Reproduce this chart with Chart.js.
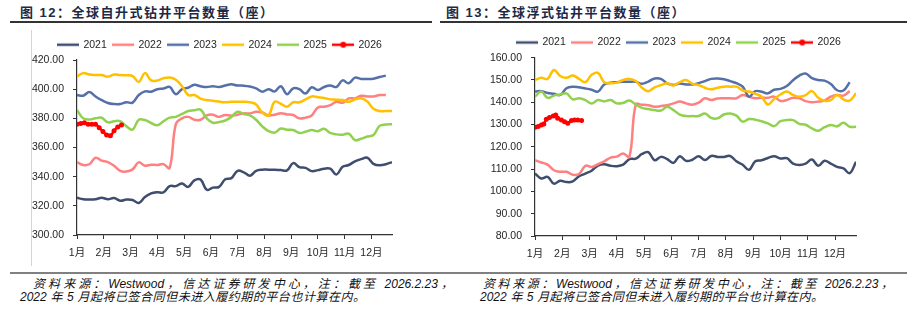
<!DOCTYPE html>
<html>
<head>
<meta charset="utf-8">
<script src="https://cdn.jsdelivr.net/npm/chart.js@4.4.1/dist/chart.umd.min.js"></script>
<style>
  body { margin: 0; width: 916px; height: 322px; background: #fff; position: relative; overflow: hidden;
         font-family: "Liberation Sans", "Noto Sans CJK SC", sans-serif; }
  .title { position: absolute; top: 5px; line-height: 16px; font-weight: bold; font-size: 13px;
           letter-spacing: 1.5px; color: #1b2a47; white-space: nowrap; }
  .rule { position: absolute; top: 21px; height: 2px; background: #333; }
  .foot-rule { position: absolute; top: 272px; height: 2px; background: #808080; }
  .src { position: absolute; font-style: italic; font-size: 12px; line-height: 14px; color: #111;
         text-align: justify; text-align-last: justify; }
  .vline { position: absolute; left: 31px; top: 30px; width: 1px; height: 236px; background: #d4d4d4; }
  canvas { position: absolute; }
</style>
</head>
<body>
<div class="title" style="left:20px">图 12：全球自升式钻井平台数量（座）</div>
<div class="title" style="left:446px">图 13：全球浮式钻井平台数量（座）</div>
<div class="rule" style="left:10px;width:422px"></div>
<div class="rule" style="left:440px;width:467px"></div>
<div class="vline"></div>

<canvas id="chartJackup" width="384" height="240" style="left:30px;top:30px"></canvas>
<canvas id="chartFloater" width="386" height="240" style="left:488px;top:30px"></canvas>

<div class="foot-rule" style="left:10px;width:440px"></div>
<div class="foot-rule" style="left:450px;width:457px"></div>
<div class="src" style="left:33px;top:277px;width:420px">资料来源：Westwood，信达证券研发中心，注：截至 2026.2.23，</div>
<div class="src" style="left:20px;top:290px;width:345px">2022 年 5 月起将已签合同但未进入履约期的平台也计算在内。</div>
<div class="src" style="left:483px;top:277px;width:410px">资料来源：Westwood，信达证券研发中心，注：截至 2026.2.23，</div>
<div class="src" style="left:480px;top:290px;width:343px">2022 年 5 月起将已签合同但未进入履约期的平台也计算在内。</div>

<script>
// 年份与颜色
const years = ['2021', '2022', '2023', '2024', '2025', '2026'];
const colors = ['#3F4D6E', '#FF8080', '#5570A8', '#FFC000', '#92D050', '#FF0000'];
const monthLabels = ['1月', '2月', '3月', '4月', '5月', '6月', '7月', '8月', '9月', '10月', '11月', '12月'];

// 自升式钻井平台（周度）
const jackup2021 = [325.5, 324.5, 324.3, 324.5, 325.5, 324.5, 325.3, 323.5, 324.3, 324, 322, 326, 328.5, 329.3, 329.3, 333.5, 333.5, 335.3, 333, 337.5, 338, 331, 332.5, 333, 338.2, 339, 344, 343, 340.7, 344, 344.8, 344.8, 344.8, 344.5, 344.3, 349.3, 346.5, 346, 343.8, 344.5, 345.5, 345.5, 341.5, 346.8, 348, 350.5, 352, 353, 348.8, 347.8, 348.5, 350];
const jackup2022 = [350, 348, 348.5, 353, 351, 350, 347.5, 344, 343.5, 345, 349.8, 347.5, 348.2, 348, 348.6, 346, 376, 380, 381, 379, 379, 382, 382.5, 381, 382.3, 381.8, 382.5, 383.4, 383.4, 384.5, 384, 382, 382.5, 383.5, 382.7, 382.3, 380, 380.5, 382, 387.5, 388, 389, 391.4, 390.7, 393.7, 393.7, 395.5, 395, 395, 396, 396];
const jackup2023 = [396, 395.5, 398, 395, 392.5, 390.5, 389.8, 389.8, 391, 390.8, 396, 398.5, 398.3, 400, 400.5, 401.5, 396.5, 400, 401, 403, 402, 401.5, 402, 401.5, 402.5, 403.3, 402.5, 402.4, 401.8, 400.5, 398.3, 400, 398.5, 402, 396.5, 400.6, 400, 397, 401.3, 399.4, 401.5, 402.5, 401.5, 406, 404, 407.9, 407, 407, 407.2, 408.3, 409.3];
const jackup2024 = [408.6, 411, 410, 409.7, 409.7, 408.6, 410, 409.7, 409.5, 409, 405, 411, 406, 406, 407.5, 408, 406.5, 402, 396, 396, 393.5, 392.5, 392, 391.5, 391, 391.4, 391.4, 391.4, 391, 389.5, 384, 382, 391.4, 390, 388, 391, 391, 393, 395, 394.5, 394, 393, 392.8, 392.5, 391.3, 393, 393.7, 391.5, 386.5, 385, 385, 385];
const jackup2025 = [385.7, 380, 379.2, 380, 380.4, 377.2, 378, 378, 374.5, 372.3, 379, 378.8, 376.8, 375.2, 378, 380.5, 381, 383, 385, 385.5, 386, 380, 377, 377.5, 378.5, 381, 384.5, 383, 382, 379, 374.5, 371.3, 370.2, 373, 372.2, 372, 370, 370.8, 372, 371.2, 372.8, 370, 369, 368.8, 369.5, 365.1, 366, 367.5, 368.6, 374.8, 375.7, 376];
const jackup2026Weeks = [0, 0.6, 1.2, 1.8, 2.4, 3, 3.6, 4.2, 4.8, 5.4, 6, 6.6, 7.2];
const jackup2026 = [376, 376.5, 377, 376, 376, 376, 373.5, 371, 368.5, 368, 371.5, 374, 375.5];

// 浮式钻井平台（周度）
const floater2021 = [108, 105.8, 106.5, 103.5, 104.8, 104.2, 104.5, 106.8, 108, 109.3, 111.6, 112.2, 111.5, 111.3, 112, 114.5, 114.7, 116.8, 117.6, 114, 115.5, 114.5, 112.8, 115.8, 113.7, 114.2, 115.8, 114.1, 115.9, 115.5, 115.5, 115.9, 113.5, 112, 109.7, 113.5, 114, 115, 115.8, 114.8, 114.9, 112.5, 111.9, 112.5, 114.3, 111.5, 113.8, 112.5, 111, 110.3, 108.2, 113.3];
const floater2022 = [114, 113, 112, 109.5, 108.8, 108.8, 107.5, 107.8, 111.5, 111, 112.2, 113.5, 115.2, 115.6, 117, 115.5, 139, 138.9, 138.7, 138, 138.3, 138.7, 139.5, 140.3, 139.5, 138.9, 139.8, 141.8, 141, 141.7, 141.8, 141.8, 141.8, 143.3, 142.5, 141.8, 142, 142, 142.5, 140.6, 141, 142, 141.8, 140.5, 140, 140.3, 140.8, 142.5, 143.3, 143, 145];
const floater2023 = [144.8, 145, 144.2, 143.8, 143.3, 146.3, 147, 146.7, 146.2, 145.6, 144.8, 148, 148.8, 149, 149.2, 149.2, 149.2, 148.3, 149.3, 150.7, 150.5, 148.5, 147.8, 148.4, 148, 148, 148.6, 149.5, 150.5, 150.7, 150.3, 149.5, 148.6, 147, 142.5, 145, 144.7, 144, 145.6, 146, 147.3, 149.9, 152, 152.9, 150.8, 150, 149.7, 148.2, 145.4, 145.3, 149];
const floater2024 = [150, 151, 150.5, 154.5, 151.8, 151, 152, 150.5, 149, 152.3, 153.2, 149, 148.5, 148.8, 150, 150.5, 149.5, 146.5, 145, 146.7, 147.7, 148.5, 147.5, 149, 150, 148.3, 147.7, 146.5, 145.8, 146.5, 147, 147, 147, 145.3, 144.8, 143.8, 142.5, 139, 141.5, 143.5, 144.8, 143.3, 142.5, 143.2, 145, 142, 140.7, 141, 143.3, 141.3, 140.7, 144];
const floater2025 = [142.5, 144.8, 142, 143, 143.5, 144, 141.3, 141.8, 141, 139.4, 141, 140.4, 141, 139.5, 139.7, 140.8, 139, 137.5, 137, 136.5, 136.3, 138, 136.5, 134.5, 133.8, 133.8, 133.8, 135, 133, 132.8, 134.5, 135, 134, 131.3, 132.5, 132.2, 131.5, 130.5, 129.3, 131.5, 132, 132, 130.3, 129.9, 128.3, 127.2, 128.8, 129.8, 129.2, 130.8, 129, 129];
const floater2026Weeks = [0, 0.5, 1, 1.4, 1.8, 2.3, 2.9, 3.3, 3.6, 4.2, 4.7, 5.2, 5.8, 6.3, 6.8, 7.4];
const floater2026 = [128.8, 129.1, 129.8, 130.3, 132.4, 133.2, 133.8, 134.3, 132.8, 132, 131.3, 130.6, 131.8, 132, 132, 131.8];

Chart.defaults.font.family = '"Liberation Sans", "Noto Sans CJK SC", sans-serif';
Chart.defaults.font.size = 10.5;
Chart.defaults.color = '#262626';

// 周序号 -> 点
function toPoints(values, weeks) {
    return values.map((v, i) => ({ x: weeks ? weeks[i] : i, y: v }));
}

// 图例图标：线段（2026 带圆点）
function legendIcon(color, withDot) {
    const c = document.createElement('canvas');
    c.width = 22; c.height = 8;
    const g = c.getContext('2d');
    g.strokeStyle = color; g.lineWidth = 2.5;
    g.beginPath(); g.moveTo(0, 4); g.lineTo(22, 4); g.stroke();
    if (withDot) {
        g.fillStyle = color;
        g.beginPath(); g.arc(11, 4, 3, 0, Math.PI * 2); g.fill();
    }
    return c;
}

// 图例整体水平平移
const legendShift = {
    id: 'legendShift',
    afterLayout(chart, args, opts) {
        chart.legend.left += opts.dx;
        chart.legend.right += opts.dx;
    }
};

function makeChart(id, seriesList, yMin, yMax, yStep, lay) {
    const datasets = seriesList.map((pts, i) => {
        const last = i === years.length - 1;
        return {
            label: years[i],
            data: pts,
            borderColor: colors[i],
            backgroundColor: colors[i],
            borderWidth: 2.5,
            tension: 0.4,
            pointRadius: last ? 2.5 : 0,
            pointBackgroundColor: colors[i],
            pointBorderWidth: 0,
            order: years.length - 1 - i
        };
    });
    return new Chart(document.getElementById(id).getContext('2d'), {
        type: 'line',
        data: { datasets },
        plugins: [legendShift],
        options: {
            responsive: false,
            animation: false,
            devicePixelRatio: 1,
            layout: { padding: { top: lay.top, left: 0, right: lay.right, bottom: 0 } },
            plugins: {
                tooltip: { enabled: false },
                legendShift: { dx: lay.dx },
                legend: {
                    position: 'top',
                    labels: {
                        usePointStyle: true,
                        pointStyleWidth: 20,
                        padding: 6.4,
                        color: '#262626',
                        generateLabels: chart => Chart.defaults.plugins.legend.labels.generateLabels(chart)
                            .sort((a, b) => a.datasetIndex - b.datasetIndex)
                            .map(item => ({
                                ...item,
                                pointStyle: legendIcon(colors[item.datasetIndex], item.datasetIndex === years.length - 1)
                            }))
                    }
                }
            },
            scales: {
                x: {
                    type: 'linear',
                    min: 0,
                    max: 51,
                    afterFit: s => { s.height = lay.xh; },
                    afterBuildTicks: s => { s.ticks = monthLabels.map((_, i) => ({ value: i * 52 / 12 })); },
                    ticks: {
                        autoSkip: false,
                        maxRotation: 0,
                        padding: 8,
                        callback: (v, i) => monthLabels[i]
                    },
                    grid: { drawOnChartArea: false, drawTicks: true, tickLength: 4, tickColor: '#333' },
                    border: { display: true, color: '#333', width: 1.2 }
                },
                y: {
                    min: yMin,
                    max: yMax,
                    afterFit: s => { s.width = 47; },
                    ticks: {
                        stepSize: yStep,
                        padding: 9,
                        callback: v => v.toFixed(2)
                    },
                    grid: { drawOnChartArea: false, drawTicks: true, tickLength: 4, tickColor: '#333' },
                    border: { display: true, color: '#333', width: 1.2 }
                }
            }
        }
    });
}

makeChart('chartJackup', [
    toPoints(jackup2021), toPoints(jackup2022), toPoints(jackup2023),
    toPoints(jackup2024), toPoints(jackup2025), toPoints(jackup2026, jackup2026Weeks)
], 300, 420, 20, { top: 3.1, right: 22, xh: 35, dx: 9 });

makeChart('chartFloater', [
    toPoints(floater2021), toPoints(floater2022), toPoints(floater2023),
    toPoints(floater2024), toPoints(floater2025), toPoints(floater2026, floater2026Weeks)
], 80, 160, 10, { top: 0.8, right: 18, xh: 34, dx: 7 });
</script>
</body>
</html>
